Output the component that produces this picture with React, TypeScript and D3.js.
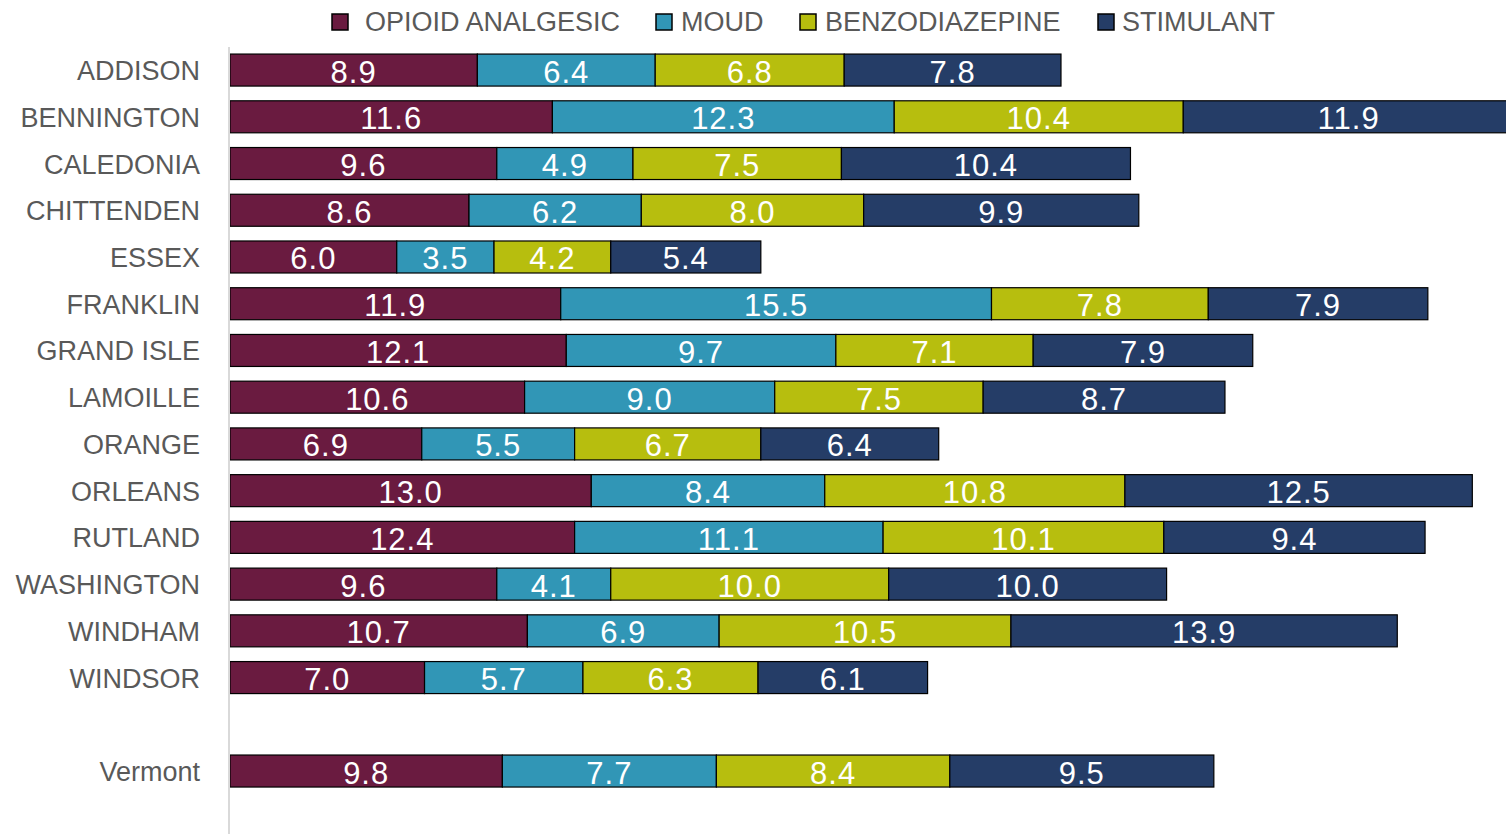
import * as d3 from "d3";

const counties = [
  "ADDISON",
  "BENNINGTON",
  "CALEDONIA",
  "CHITTENDEN",
  "ESSEX",
  "FRANKLIN",
  "GRAND ISLE",
  "LAMOILLE",
  "ORANGE",
  "ORLEANS",
  "RUTLAND",
  "WASHINGTON",
  "WINDHAM",
  "WINDSOR",
  "",
  "Vermont",
];

const seriesNames = ["OPIOID ANALGESIC", "MOUD", "BENZODIAZEPINE", "STIMULANT"];
const seriesColors = ["#6A1B40", "#3196B6", "#B7BE0E", "#253D67"];

// one array per series, in the order of counties (blank row = null)
const opioid = [8.9, 11.6, 9.6, 8.6, 6.0, 11.9, 12.1, 10.6, 6.9, 13.0, 12.4, 9.6, 10.7, 7.0, null, 9.8];
const moud = [6.4, 12.3, 4.9, 6.2, 3.5, 15.5, 9.7, 9.0, 5.5, 8.4, 11.1, 4.1, 6.9, 5.7, null, 7.7];
const benzo = [6.8, 10.4, 7.5, 8.0, 4.2, 7.8, 7.1, 7.5, 6.7, 10.8, 10.1, 10.0, 10.5, 6.3, null, 8.4];
const stimulant = [7.8, 11.9, 10.4, 9.9, 5.4, 7.9, 7.9, 8.7, 6.4, 12.5, 9.4, 10.0, 13.9, 6.1, null, 9.5];

const legendSwatchX = [332, 656, 800, 1098];
const legendTextX = [365, 681, 825, 1122];

export default function App() {
  const width = 1506;
  const height = 834;
  const font = "'Liberation Sans', Arial, sans-serif";

  const rows = counties.map((c, i) => ({
    county: c,
    key: c || "blank",
    values: [opioid[i], moud[i], benzo[i], stimulant[i]],
  }));

  const x = d3.scaleLinear().domain([0, 46.2]).range([230, 1514]);
  const y = d3
    .scaleBand()
    .domain(rows.map((r) => r.key))
    .range([46.7, 794.4])
    .paddingInner(0.315)
    .paddingOuter(0.1575);

  return (
    <svg
      width={width}
      height={height}
      style={{ position: "absolute", left: 0, top: 0, display: "block" }}
      fontFamily={font}
    >
      <rect x={0} y={0} width={width} height={height} fill="#fff" />

      {/* Legend */}
      {seriesNames.map((name, i) => (
        <g key={name}>
          <rect
            x={legendSwatchX[i]}
            y={14}
            width={16}
            height={16}
            fill={seriesColors[i]}
            stroke="#000"
            strokeWidth={1.5}
          />
          <text x={legendTextX[i]} y={22} dominantBaseline="central" fontSize={27} fill="#595959">
            {name}
          </text>
        </g>
      ))}

      {/* Bars */}
      {rows.map((r) => {
        if (r.values[0] == null) return null;
        const y0 = y(r.key) || 0;
        let acc = 0;
        return (
          <g key={r.key}>
            {r.values.map((v, j) => {
              const start = acc;
              acc += v as number;
              const x0 = x(start);
              const x1 = x(acc);
              return (
                <g key={j}>
                  <rect
                    x={x0}
                    y={y0}
                    width={x1 - x0}
                    height={y.bandwidth()}
                    fill={seriesColors[j]}
                    stroke="#000"
                    strokeWidth={1.2}
                  />
                  <text
                    x={(x0 + x1) / 2}
                    y={y0 + y.bandwidth() / 2 + 2}
                    textAnchor="middle"
                    dominantBaseline="central"
                    fontSize={31}
                    fill="#fff"
                    letterSpacing={1}
                  >
                    {(v as number).toFixed(1)}
                  </text>
                </g>
              );
            })}
          </g>
        );
      })}

      {/* Axis line */}
      <line x1={229} x2={229} y1={47} y2={height} stroke="#d9d9d9" strokeWidth={2} />

      {/* Category labels */}
      {rows.map((r) =>
        r.county ? (
          <text
            key={`l-${r.key}`}
            x={200}
            y={(y(r.key) || 0) + y.bandwidth() / 2 + 1}
            textAnchor="end"
            dominantBaseline="central"
            fontSize={27}
            fill="#595959"
          >
            {r.county}
          </text>
        ) : null
      )}
    </svg>
  );
}
